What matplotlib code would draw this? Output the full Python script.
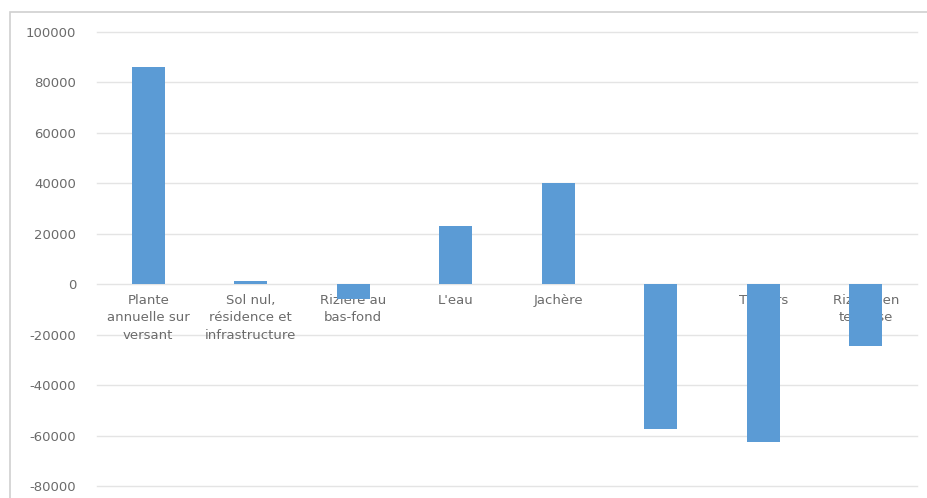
import matplotlib.pyplot as plt
from matplotlib.patches import Rectangle

categories = [
    "Plante\nannuelle sur\nversant",
    "Sol nul,\nrésidence et\ninfrastructure",
    "Rizière au\nbas-fond",
    "L'eau",
    "Jachère",
    "Forêt",
    "Théiers",
    "Rizière en\nterrasse",
]
values = [86000, 1200, -6000, 23000, 40000, -57500, -62700, -24600]
y_ticks = [100000, 80000, 60000, 40000, 20000, 0, -20000, -40000, -60000, -80000]

BAR_COLOR = "#5b9bd5"
TEXT_COLOR = "#6b6b6b"
GRID_COLOR = "#e4e4e4"

fig = plt.figure(figsize=(9.28, 4.98), dpi=100)
fig.patches.append(Rectangle((10 / 928, -0.01), 1.0, (498 - 12) / 498 + 0.01,
                             transform=fig.transFigure, fill=False,
                             edgecolor="#d0d0d0", linewidth=1.2))

ax = fig.add_axes([97 / 928, 12 / 498, (917 - 97) / 928, (486 - 32) / 498])
x = list(range(len(categories)))
ax.bar(x, values, width=0.32, color=BAR_COLOR, zorder=3)

for i, lab in enumerate(categories):
    ax.text(i, -3800, lab, ha="center", va="top", fontsize=9.5,
            color=TEXT_COLOR, linespacing=1.45, zorder=2)

ax.set_xlim(-0.5, len(categories) - 0.5)
ax.set_ylim(-80000, 100000)
ax.set_yticks(y_ticks)
ax.set_yticklabels([str(v) for v in y_ticks])
ax.set_xticks([])
ax.tick_params(axis="y", length=0, pad=15, labelsize=9.5, labelcolor=TEXT_COLOR)
ax.grid(axis="y", color=GRID_COLOR, linewidth=1, zorder=0)
for gl in ax.get_ygridlines():
    gl.set_clip_on(False)
for s in ax.spines.values():
    s.set_visible(False)

fig.savefig("out.png", dpi=100)
